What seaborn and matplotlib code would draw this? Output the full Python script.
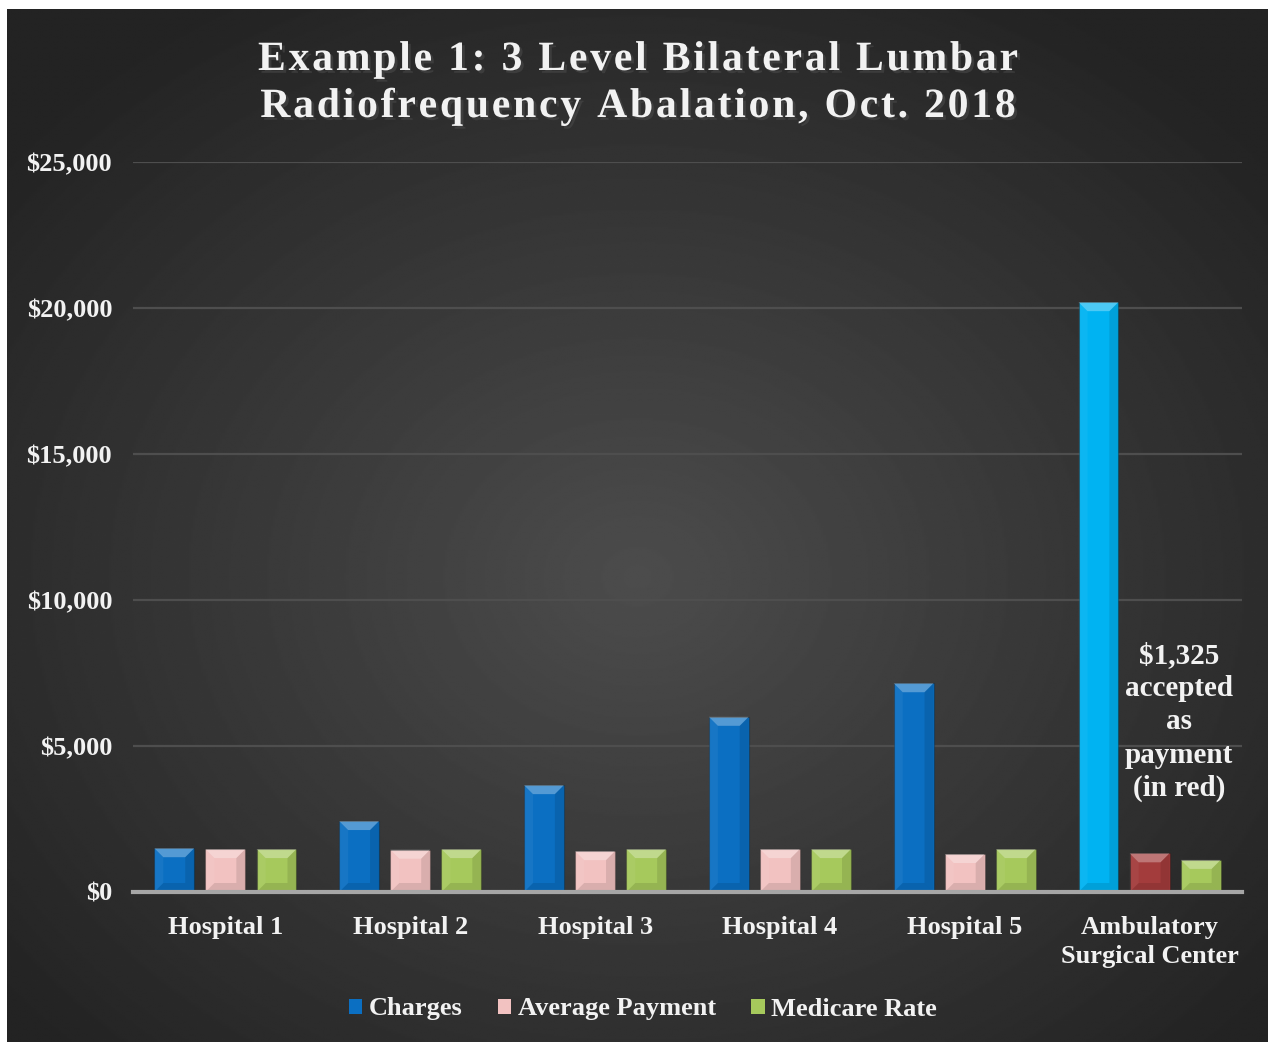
import numpy as np
import pandas as pd
import seaborn as sns
import matplotlib.pyplot as plt
import matplotlib.patheffects as pe
from matplotlib.patches import Polygon, Rectangle
from matplotlib.font_manager import FontProperties, findfont, get_font

# data
groups = ['Hospital 1', 'Hospital 2', 'Hospital 3', 'Hospital 4', 'Hospital 5',
          'Ambulatory\nSurgical Center']
series = ['Charges', 'Average Payment', 'Medicare Rate']
charges = [1500, 2430, 3660, 6000, 7150, 20200]
avg_payment = [1470, 1450, 1400, 1470, 1300, 1325]
medicare = [1470, 1470, 1470, 1470, 1470, 1100]
yticks = [0, 5000, 10000, 15000, 20000, 25000]
ytick_labels = ['$0', '$5,000', '$10,000', '$15,000', '$20,000', '$25,000']
title_lines = ['Example 1: 3 Level Bilateral Lumbar',
               'Radiofrequency Abalation, Oct. 2018']
note = '$1,325\naccepted\nas\npayment\n(in red)'

colors = ['#0B6FC2', '#F2C2C1', '#A6C95C']
asc_charge_color = '#00B3F2'
asc_payment_color = '#A33C3C'

df = pd.DataFrame({
    'group': groups * 3,
    'series': [s for s in series for _ in groups],
    'value': charges + avg_payment + medicare,
})

sns.set_theme(style='dark')
plt.rcParams['font.family'] = ['Liberation Serif', 'DejaVu Serif']
plt.rcParams['font.weight'] = 'bold'

W, H = 1268, 1042
fig = plt.figure(figsize=(W / 100, H / 100), dpi=100)
fig.patch.set_facecolor('white')

# dark background with a soft glow in the middle
bg = fig.add_axes([7 / W, 0, 1 - 7 / W, 1 - 9 / H], zorder=-5)
yy, xx = np.mgrid[0:1:600j, 0:1:600j]
r = np.sqrt(((xx - 0.5) / 0.8) ** 2 + ((yy - 0.55) / 0.8) ** 2)
shade = np.clip(0.30 - 0.2 * r, 0.14, 0.30)
bg.imshow(shade, cmap='gray', vmin=0, vmax=1, aspect='auto',
          extent=[0, 1, 0, 1], interpolation='bilinear')
bg.axis('off')

ax = fig.add_axes([133 / W, 1 - 892 / H, (1242 - 133) / W, (892 - 162) / H])
ax.set_facecolor('none')

sns.barplot(data=df, x='group', y='value', hue='series', palette=colors,
            width=0.83, gap=0.22, ax=ax, legend=False, saturation=1)

# ASC bars get their own colours
ax.containers[0][5].set_facecolor(asc_charge_color)
ax.containers[1][5].set_facecolor(asc_payment_color)

# rough bevel look on every bar
px_x = (1242 - 133) / 6.0
px_y = (892 - 162) / 25000.0
bev = 9
for cont in ax.containers:
    for bar in cont:
        x0, w, h = bar.get_x(), bar.get_width(), bar.get_height()
        x1 = x0 + w
        dx, dy = bev / px_x, bev / px_y
        dy = min(dy, h / 2)
        bar.set_edgecolor((0, 0, 0, 0.25))
        bar.set_linewidth(0.8)
        bar.set_zorder(3)
        ax.add_patch(Polygon([(x0, h), (x1, h), (x1 - dx, h - dy), (x0 + dx, h - dy)],
                             closed=True, facecolor='white', alpha=0.3,
                             edgecolor='none', zorder=4))
        ax.add_patch(Polygon([(x0, 0), (x1, 0), (x1 - dx, dy), (x0 + dx, dy)],
                             closed=True, facecolor='black', alpha=0.1,
                             edgecolor='none', zorder=4))
        ax.add_patch(Polygon([(x1, 0), (x1, h), (x1 - dx, h - dy), (x1 - dx, dy)],
                             closed=True, facecolor='black', alpha=0.1,
                             edgecolor='none', zorder=4))
        ax.add_patch(Polygon([(x0, 0), (x0, h), (x0 + dx, h - dy), (x0 + dx, dy)],
                             closed=True, facecolor='white', alpha=0.05,
                             edgecolor='none', zorder=4))

ax.set_xlim(-0.5, 5.5)
ax.set_ylim(0, 25000)
ax.set_yticks(yticks)
ax.set_yticklabels(ytick_labels)
ax.yaxis.grid(True, color='#4E4E4E', linewidth=1.6)
ax.set_axisbelow(True)
ax.xaxis.grid(False)
for s in ['top', 'right', 'left']:
    ax.spines[s].set_visible(False)
ax.spines['bottom'].set_color('#A6A6A6')
ax.spines['bottom'].set_linewidth(3)
ax.spines['bottom'].set_zorder(5)
ax.tick_params(axis='both', length=0, colors='#F2F2F2', labelsize=19)
ax.tick_params(axis='y', pad=15)
ax.tick_params(axis='x', pad=17)
for lab in ax.get_xticklabels() + ax.get_yticklabels():
    lab.set_fontweight('bold')
    lab.set_linespacing(1.38)
ax.set_xlabel('')
ax.set_ylabel('')

# note next to the ASC bars
ax.text(5.16, 5820, note, ha='center', va='center',
        color='#F2F2F2', fontsize=21, fontweight='bold', linespacing=1.3, zorder=6)

# title, drawn letter by letter to get the wide tracking
tsize = 30
tprop = FontProperties(family='Liberation Serif', weight='bold', size=tsize)
tfont = get_font(findfont(tprop))
tfont.set_size(tsize, 100)
track = 2.8
shadow = [pe.withSimplePatchShadow(offset=(2, -2), alpha=0.6)]
for line, base in zip(title_lines, [70, 117]):
    adv = []
    for ch in line:
        g = tfont.load_char(ord(ch))
        adv.append(g.linearHoriAdvance / 65536.0)
    total = sum(adv) + track * (len(line) - 1)
    x = 638 - total / 2
    for ch, a in zip(line, adv):
        fig.text(x / W, 1 - base / H, ch, ha='left', va='baseline', color='#F2F2F2',
                 fontproperties=tprop, path_effects=shadow)
        x += a + track

# legend
handles = [Rectangle((0, 0), 1, 1, facecolor=c, edgecolor='none') for c in colors]
fig.legend(handles, series, loc='center', bbox_to_anchor=(0.507, 1 - 1009 / H), ncol=3,
           frameon=False, labelcolor='#F2F2F2', handlelength=0.5,
           handleheight=0.5, handletextpad=0.25, columnspacing=1.35,
           prop={'weight': 'bold', 'size': 19})

fig.savefig('out.png', dpi=100, facecolor=fig.get_facecolor())
